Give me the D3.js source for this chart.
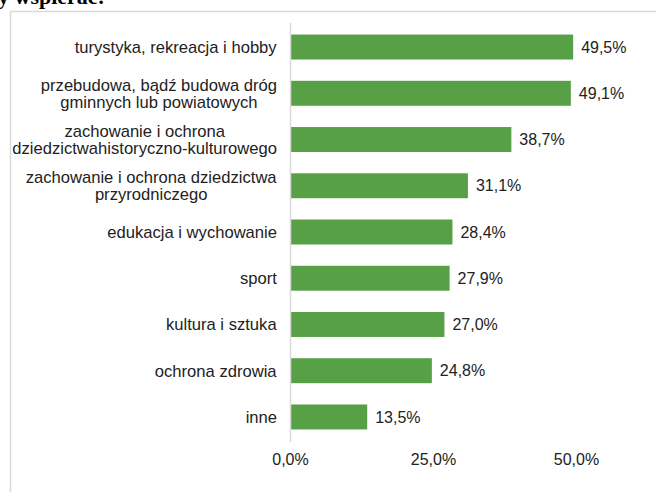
<!DOCTYPE html>
<html>
<head>
<meta charset="utf-8">
<script src="https://cdn.jsdelivr.net/npm/d3@7"></script>
<style>
  html, body { margin: 0; padding: 0; background: #fff; overflow: hidden; }
  svg { display: block; }
</style>
</head>
<body>
<svg id="chart" width="656" height="492"></svg>
<script>
const categories = [
  "turystyka, rekreacja i hobby",
  "przebudowa, bądź budowa dróg\ngminnych lub powiatowych",
  "zachowanie i ochrona\ndziedzictwahistoryczno-kulturowego",
  "zachowanie i ochrona dziedzictwa\nprzyrodniczego",
  "edukacja i wychowanie",
  "sport",
  "kultura i sztuka",
  "ochrona zdrowia",
  "inne"
];
const values = [49.5, 49.1, 38.7, 31.1, 28.4, 27.9, 27.0, 24.8, 13.5];
const tickValues = [0, 25, 50];
const titleText = "y wspierać:";

const svg = d3.select("#chart");
const fmt = v => d3.format(".1f")(v).replace(".", ",") + "%";

// frame
svg.append("rect")
  .attr("x", 10.5).attr("y", 11.5)
  .attr("width", 700).attr("height", 600)
  .attr("fill", "none").attr("stroke", "#d9d9d9").attr("stroke-width", 1.5);

// cut-off title
svg.append("text")
  .attr("x", -2).attr("y", 4)
  .attr("font-family", "'Liberation Serif', 'Times New Roman', serif")
  .attr("font-weight", "bold").attr("font-size", 22)
  .attr("fill", "#000")
  .text(titleText);

const x = d3.scaleLinear().domain([0, 50]).range([290, 576]);
const y = d3.scaleBand().domain(categories).range([23, 441])
  .paddingInner(0.46).paddingOuter(0.25);

const font = "'Liberation Sans', Arial, sans-serif";
const fs = 16;
const fsLab = 16.6;

// bars
svg.append("g").selectAll("rect")
  .data(categories)
  .join("rect")
  .attr("x", x(0))
  .attr("y", d => y(d))
  .attr("width", (d, i) => x(values[i]) - x(0))
  .attr("height", y.bandwidth())
  .attr("fill", "#58a046");

// vertical axis line
svg.append("line")
  .attr("x1", x(0) + 0.5).attr("x2", x(0) + 0.5)
  .attr("y1", 23).attr("y2", 442)
  .attr("stroke", "#d9d9d9").attr("stroke-width", 1.5);

// value labels
svg.append("g").selectAll("text")
  .data(categories)
  .join("text")
  .attr("x", (d, i) => x(values[i]) + 8)
  .attr("y", d => y(d) + y.bandwidth() / 2)
  .attr("dy", "0.35em")
  .attr("font-family", font).attr("font-size", fs)
  .attr("fill", "#222")
  .text((d, i) => fmt(values[i]));

// category labels
const lab = svg.append("g").selectAll("text")
  .data(categories)
  .join("text")
  .attr("text-anchor", "middle")
  .attr("font-family", font).attr("font-size", fsLab)
  .attr("fill", "#222");

lab.each(function(d) {
  const lines = d.split("\n");
  const t = d3.select(this);
  const cy = y(d) + y.bandwidth() / 2;
  const lh = 17;
  lines.forEach((ln, k) => {
    t.append("tspan")
      .attr("x", 0)
      .attr("y", cy + (k - (lines.length - 1) / 2) * lh)
      .attr("dy", "0.35em")
      .text(ln);
  });
});
// right-align each label block, lines centred within the block
lab.each(function() {
  const bb = this.getBBox();
  const right = 277;
  const cx = right - bb.width / 2;
  d3.select(this).selectAll("tspan").attr("x", cx);
});

// x axis tick labels
const xAxis = d3.axisBottom(x).tickValues(tickValues).tickSize(0).tickPadding(0)
  .tickFormat(fmt);
const ax = svg.append("g").attr("transform", "translate(0,454)").call(xAxis);
ax.select(".domain").remove();
ax.selectAll("text")
  .attr("font-family", font).attr("font-size", fs)
  .attr("fill", "#222");
</script>
</body>
</html>
